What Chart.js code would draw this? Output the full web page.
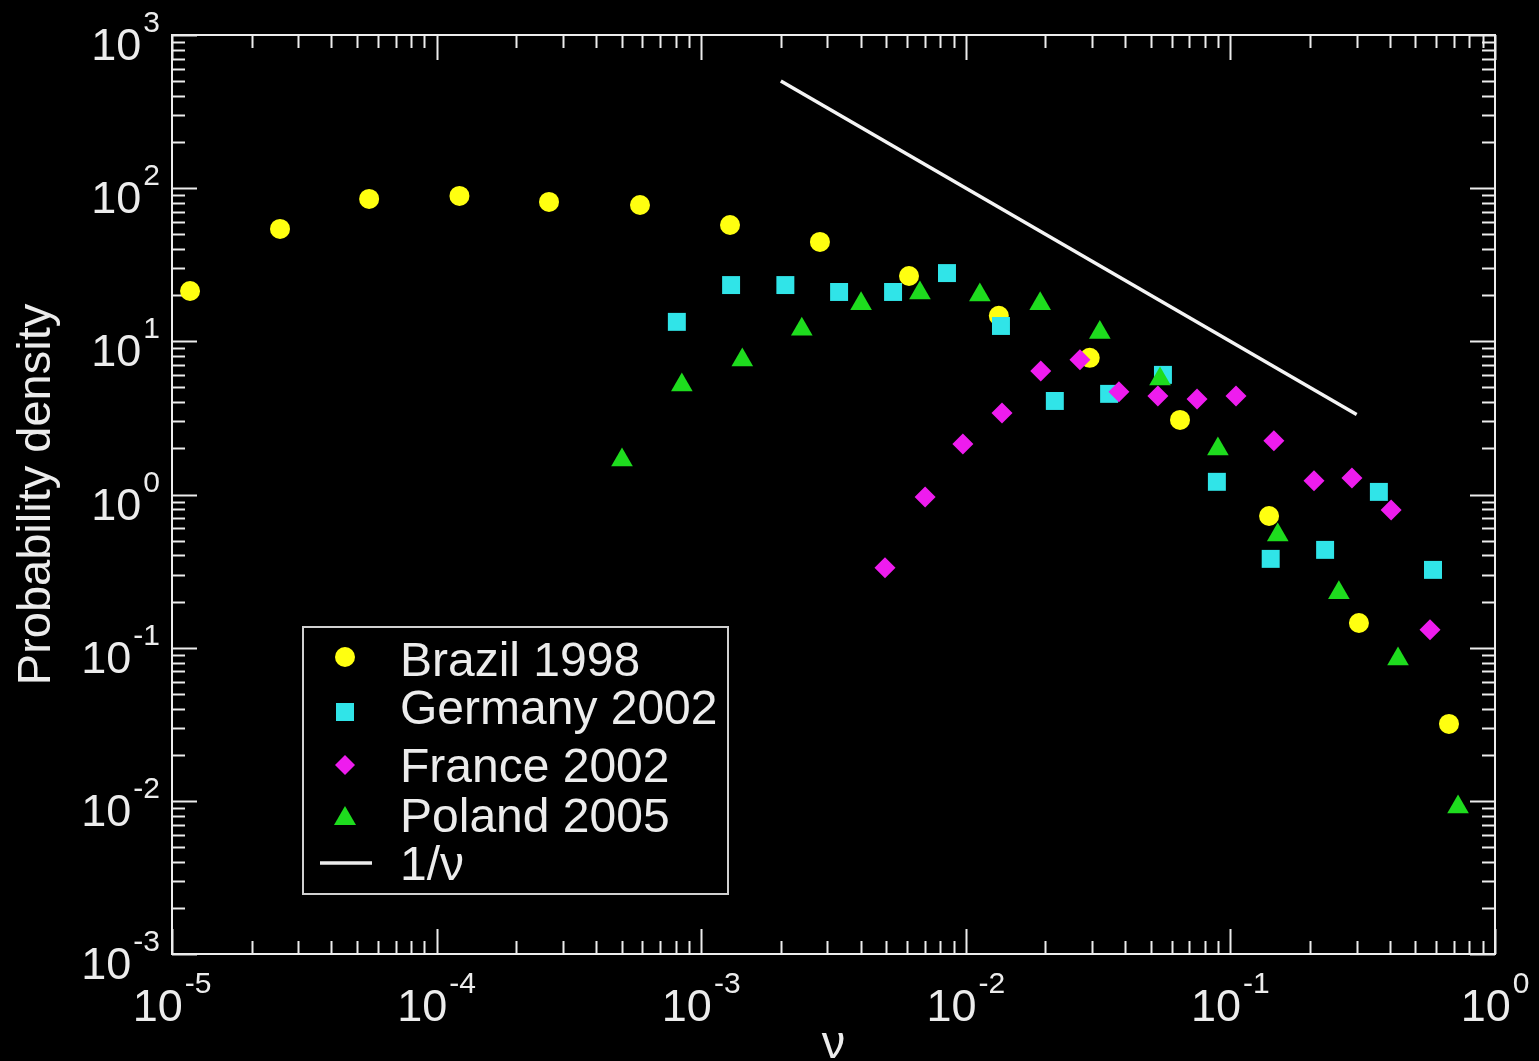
<!DOCTYPE html>
<html>
<head>
<meta charset="utf-8">
<title>Probability density</title>
<script src="https://cdn.jsdelivr.net/npm/chart.js@4.4.1/dist/chart.umd.min.js"></script>
<style>
  html, body { margin: 0; padding: 0; background: #000; }
  canvas { display: block; }
</style>
</head>
<body>
<canvas id="chart" width="1539" height="1061"></canvas>
<script>
// vote fraction ν and probability density per election
const brazilNu = [1.17e-5, 2.56e-5, 5.56e-5, 1.22e-4, 2.66e-4, 5.87e-4, 1.285e-3, 2.81e-3, 6.10e-3, 1.333e-2, 2.94e-2, 6.45e-2, 0.140, 0.306, 0.670];
const brazilP = [21.3, 54.2, 85.1, 89.0, 81.3, 77.6, 57.5, 44.6, 26.7, 14.7, 7.80, 3.07, 0.724, 0.145, 0.0318];

const germanyNu = [8.09e-4, 1.297e-3, 2.08e-3, 3.32e-3, 5.31e-3, 8.49e-3, 1.358e-2, 2.17e-2, 3.48e-2, 5.56e-2, 8.89e-2, 0.142, 0.228, 0.364, 0.583];
const germanyP = [13.4, 23.3, 23.3, 21.0, 21.0, 27.9, 12.6, 4.08, 4.54, 6.04, 1.21, 0.380, 0.435, 1.04, 0.322];

const franceNu = [4.95e-3, 7.02e-3, 9.75e-3, 1.37e-2, 1.92e-2, 2.70e-2, 3.79e-2, 5.32e-2, 7.48e-2, 0.105, 0.146, 0.207, 0.288, 0.405, 0.568];
const franceP = [0.332, 0.964, 2.14, 3.41, 6.41, 7.57, 4.68, 4.40, 4.21, 4.40, 2.24, 1.23, 1.28, 0.793, 0.131];

const polandNu = [5.02e-4, 8.45e-4, 1.43e-3, 2.40e-3, 4.02e-3, 6.71e-3, 1.13e-2, 1.91e-2, 3.21e-2, 5.42e-2, 8.97e-2, 0.151, 0.257, 0.430, 0.725];
const polandP = [1.68, 5.19, 7.56, 12.0, 17.6, 20.7, 20.1, 17.6, 11.4, 5.68, 1.98, 0.545, 0.228, 0.0842, 0.0091];

// reference slope 1/ν
const guideNu = [0.002, 0.3];
const guideP = [500, 1 / 0.3];

const xDecades = [-5, -4, -3, -2, -1, 0];
const yDecades = [-3, -2, -1, 0, 1, 2, 3];
const seriesNames = ['Brazil 1998', 'Germany 2002', 'France 2002', 'Poland 2005', '1/\u03bd'];

const FONT = '"Liberation Sans", Arial, Helvetica, sans-serif';
const FG = '#ececec';
const YELLOW = '#ffff10';
const CYAN = '#30e4e8';
const MAGENTA = '#ee1cee';
const GREEN = '#1edc1e';

const pts = (xs, ys) => xs.map((v, i) => ({ x: v, y: ys[i] }));

function tenTo(ctx, exp, left, base, supBase) {
  ctx.font = `45px ${FONT}`;
  const wb = ctx.measureText('10').width;
  ctx.fillText('10', left, base);
  ctx.font = `30px ${FONT}`;
  ctx.fillText(String(exp), left + wb + 2, supBase);
}

function labelWidth(ctx, exp) {
  ctx.font = `45px ${FONT}`;
  const wb = ctx.measureText('10').width;
  ctx.font = `30px ${FONT}`;
  return wb + 2 + ctx.measureText(String(exp)).width;
}

// boxed frame with inward ticks on every side, plus tick labels and titles
const axesFrame = {
  id: 'axesFrame',
  beforeDatasetsDraw(chart) {
    const { ctx, chartArea: a, scales: { x, y } } = chart;
    ctx.save();
    ctx.strokeStyle = FG;
    ctx.lineWidth = 2;
    ctx.strokeRect(a.left, a.top, a.right - a.left, a.bottom - a.top);

    ctx.beginPath();
    xDecades.forEach((e, i) => {
      for (let m = 1; m <= 9; m++) {
        if (m > 1 && i === xDecades.length - 1) break;
        const px = Math.round(x.getPixelForValue(m * Math.pow(10, e))) + 0.5;
        const len = m === 1 ? 25 : 13;
        ctx.moveTo(px, a.bottom); ctx.lineTo(px, a.bottom - len);
        ctx.moveTo(px, a.top); ctx.lineTo(px, a.top + len);
      }
    });
    yDecades.forEach((e, i) => {
      for (let m = 1; m <= 9; m++) {
        if (m > 1 && i === yDecades.length - 1) break;
        const py = Math.round(y.getPixelForValue(m * Math.pow(10, e))) + 0.5;
        const len = m === 1 ? 25 : 13;
        ctx.moveTo(a.left, py); ctx.lineTo(a.left + len, py);
        ctx.moveTo(a.right, py); ctx.lineTo(a.right - len, py);
      }
    });
    ctx.stroke();

    ctx.fillStyle = FG;
    ctx.textAlign = 'left';
    ctx.textBaseline = 'alphabetic';
    yDecades.forEach(e => {
      const py = y.getPixelForValue(Math.pow(10, e));
      const w = labelWidth(ctx, e);
      tenTo(ctx, e, a.left - 12 - w, py + 25, py - 3);
    });
    xDecades.forEach(e => {
      const px = x.getPixelForValue(Math.pow(10, e));
      const w = labelWidth(ctx, e);
      tenTo(ctx, e, px - w / 2, a.bottom + 67, a.bottom + 39);
    });

    ctx.font = `47px ${FONT}`;
    ctx.textAlign = 'center';
    ctx.fillText('\u03bd', (a.left + a.right) / 2, 1058);
    ctx.translate(50, (a.top + a.bottom) / 2);
    ctx.rotate(-Math.PI / 2);
    ctx.fillText('Probability density', 0, 0);
    ctx.restore();
  }
};

// legend box in the lower left of the plot
const boxLegend = {
  id: 'boxLegend',
  afterDatasetsDraw(chart) {
    const { ctx } = chart;
    ctx.save();
    ctx.fillStyle = '#000';
    ctx.fillRect(303, 627, 425, 267);
    ctx.strokeStyle = '#d0d0d0';
    ctx.lineWidth = 2;
    ctx.strokeRect(303, 627, 425, 267);

    const sx = 345;
    ctx.fillStyle = YELLOW;
    ctx.beginPath(); ctx.arc(sx, 657, 10, 0, Math.PI * 2); ctx.fill();
    ctx.fillStyle = CYAN;
    ctx.fillRect(sx - 9, 703, 18, 18);
    ctx.fillStyle = MAGENTA;
    ctx.beginPath();
    ctx.moveTo(sx - 10, 765); ctx.lineTo(sx, 755); ctx.lineTo(sx + 10, 765); ctx.lineTo(sx, 775);
    ctx.closePath(); ctx.fill();
    ctx.fillStyle = GREEN;
    ctx.beginPath();
    ctx.moveTo(sx, 806); ctx.lineTo(sx + 11, 825); ctx.lineTo(sx - 11, 825);
    ctx.closePath(); ctx.fill();
    ctx.strokeStyle = FG;
    ctx.lineWidth = 3.5;
    ctx.beginPath(); ctx.moveTo(320, 863); ctx.lineTo(372, 863); ctx.stroke();

    ctx.fillStyle = FG;
    ctx.font = `48px ${FONT}`;
    ctx.textAlign = 'left';
    ctx.textBaseline = 'alphabetic';
    const baselines = [676, 724, 782, 832, 880];
    seriesNames.forEach((t, i) => ctx.fillText(t, 400, baselines[i]));
    ctx.restore();
  }
};

const marker = (color, style, r, order) => ({
  showLine: false,
  pointStyle: style,
  pointRadius: r,
  pointHoverRadius: r,
  pointBackgroundColor: color,
  pointBorderWidth: 0,
  borderColor: color,
  order
});

new Chart(document.getElementById('chart'), {
  type: 'scatter',
  data: {
    datasets: [
      { label: seriesNames[0], data: pts(brazilNu, brazilP), ...marker(YELLOW, 'circle', 10, 4) },
      { label: seriesNames[1], data: pts(germanyNu, germanyP), ...marker(CYAN, 'rect', 12.7, 3) },
      { label: seriesNames[2], data: pts(franceNu, franceP), ...marker(MAGENTA, 'rectRot', 10.5, 2) },
      { label: seriesNames[3], data: pts(polandNu, polandP), ...marker(GREEN, 'triangle', 12.5, 1) },
      {
        label: seriesNames[4],
        data: pts(guideNu, guideP),
        showLine: true,
        pointRadius: 0,
        borderColor: '#f4f4f4',
        borderWidth: 3.5,
        order: 0
      }
    ]
  },
  options: {
    responsive: false,
    animation: false,
    events: [],
    layout: { padding: { left: 172, right: 44, top: 35, bottom: 107 } },
    plugins: { legend: { display: false }, tooltip: { enabled: false } },
    scales: {
      x: { type: 'logarithmic', min: 1e-5, max: 1, display: false },
      y: { type: 'logarithmic', min: 1e-3, max: 1e3, display: false }
    }
  },
  plugins: [axesFrame, boxLegend]
});
</script>
</body>
</html>
